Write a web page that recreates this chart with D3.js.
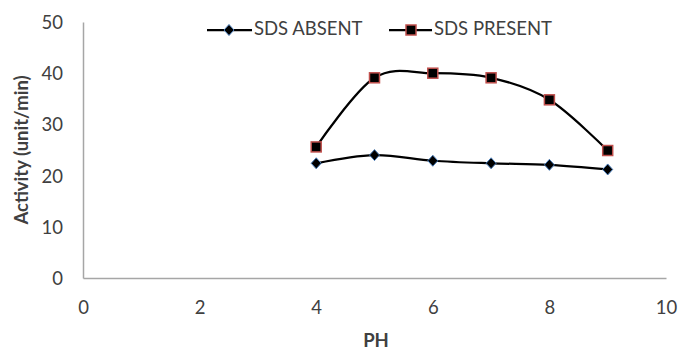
<!DOCTYPE html>
<html><head><meta charset="utf-8">
<script src="https://cdn.jsdelivr.net/npm/d3@7"></script>
<style>body{margin:0;background:#fff}svg{display:block}text{font-family:Lato,"Open Sans",sans-serif;fill:#404040}</style>
</head><body>
<script>
const phValues = [4, 5, 6, 7, 8, 9];
const sdsAbsent = [22.4, 24.0, 22.9, 22.4, 22.1, 21.2];
const sdsPresent = [25.6, 39.1, 40.0, 39.1, 34.8, 24.9];
const xTicks = [0, 2, 4, 6, 8, 10];
const yTicks = [0, 10, 20, 30, 40, 50];
const seriesNames = ["SDS ABSENT", "SDS PRESENT"];

const W = 678, H = 350;
const svg = d3.select("body").append("svg").attr("width", W).attr("height", H);
const x = d3.scaleLinear().domain([0, 10]).range([83, 666]);
const y = d3.scaleLinear().domain([0, 50]).range([278, 22]);

// axes
const xAxis = svg.append("g").attr("transform", "translate(0,278)")
  .call(d3.axisBottom(x).tickValues(xTicks).tickSize(0).tickPadding(23));
const yAxis = svg.append("g").attr("transform", "translate(83,0)")
  .call(d3.axisLeft(y).tickValues(yTicks).tickSize(0).tickPadding(20));
[xAxis, yAxis].forEach(g => {
  g.select(".domain").attr("stroke", "#a6a6a6").attr("stroke-width", 1.5);
  g.selectAll("text").style("font-family", "Lato, sans-serif").style("font-size", "18.5px").attr("fill", "#404040");
});
xAxis.selectAll("text").attr("dy", "0.71em");
yAxis.selectAll("text").attr("dy", "0.35em");

// titles
svg.append("text").attr("x", 376).attr("y", 342).attr("text-anchor", "middle")
  .attr("dominant-baseline", "middle").style("font-size", "18.5px").style("font-weight", "bold").attr("fill", "#000").text("PH");
svg.append("text").attr("transform", "translate(23,150) rotate(-90)").attr("text-anchor", "middle")
  .attr("dominant-baseline", "middle").style("font-size", "18.5px").style("font-weight", "bold").attr("fill", "#000").text("Activity (unit/min)");

const line = d3.line().x(d => x(d[0])).y(d => y(d[1])).curve(d3.curveCatmullRom.alpha(0));
const dataA = phValues.map((p, i) => [p, sdsAbsent[i]]);
const dataP = phValues.map((p, i) => [p, sdsPresent[i]]);

svg.append("path").datum(dataA).attr("d", line).attr("fill", "none").attr("stroke", "#000").attr("stroke-width", 2.25);
svg.append("path").datum(dataP).attr("d", line).attr("fill", "none").attr("stroke", "#000").attr("stroke-width", 2.25);

function drawDiamond(g, cx, cy) {
  g.append("path").attr("d", "M0,-5.5L5,0L0,5.5L-5,0Z").attr("transform", `translate(${cx},${cy})`)
    .attr("fill", "#000").attr("stroke", "#4a7ebb").attr("stroke-width", 1);
}
function drawSquare(g, cx, cy) {
  g.append("rect").attr("x", cx - 5).attr("y", cy - 5).attr("width", 10).attr("height", 10)
    .attr("fill", "#000").attr("stroke", "#c0504d").attr("stroke-width", 1.5);
}
const mk = svg.append("g");
dataA.forEach(d => drawDiamond(mk, x(d[0]), y(d[1])));
dataP.forEach(d => drawSquare(mk, x(d[0]), y(d[1])));

// legend
const lg = svg.append("g");
const ly = 30;
lg.append("line").attr("x1", 207).attr("x2", 252).attr("y1", ly).attr("y2", ly).attr("stroke", "#000").attr("stroke-width", 2.25);
drawDiamond(lg, 229, ly);
lg.append("text").attr("x", 254).attr("y", ly).attr("dominant-baseline", "middle").style("font-size", "18.5px").attr("fill", "#000").text(seriesNames[0]);
lg.append("line").attr("x1", 389).attr("x2", 432).attr("y1", ly).attr("y2", ly).attr("stroke", "#000").attr("stroke-width", 2.25);
drawSquare(lg, 411, ly);
lg.append("text").attr("x", 434).attr("y", ly).attr("dominant-baseline", "middle").style("font-size", "18.5px").attr("fill", "#000").text(seriesNames[1]);
</script>
</body></html>
